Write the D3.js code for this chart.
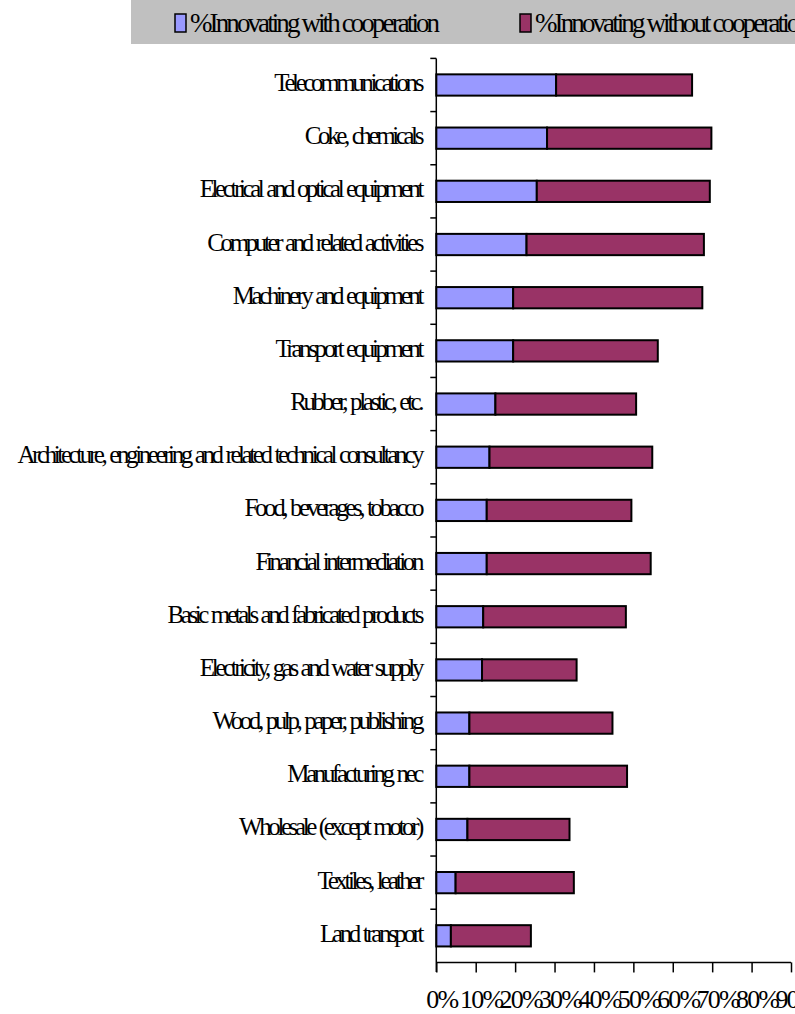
<!DOCTYPE html>
<html>
<head>
<meta charset="utf-8">
<script src="https://cdn.jsdelivr.net/npm/d3@7"></script>
<style>
  html, body { margin: 0; padding: 0; background: #ffffff; }
  svg { display: block; }
  text { font-family: "Liberation Serif", "Times New Roman", serif; fill: #000; }
</style>
</head>
<body>
<svg id="chart" width="795" height="1014"></svg>
<script>
const categories = [
  "Telecommunications",
  "Coke, chemicals",
  "Electrical and optical equipment",
  "Computer and related activities",
  "Machinery and equipment",
  "Transport equipment",
  "Rubber, plastic, etc.",
  "Architecture, engineering and related technical consultancy",
  "Food, beverages, tobacco",
  "Financial intermediation",
  "Basic metals and fabricated products",
  "Electricity, gas and water supply",
  "Wood, pulp, paper, publishing",
  "Manufacturing nec",
  "Wholesale (except motor)",
  "Textiles, leather",
  "Land transport"
];
const withCooperation =    [30.4, 28.1, 25.5, 22.9, 19.5, 19.5, 15.0, 13.5, 12.8, 12.8, 11.9, 11.6, 8.4, 8.4, 7.9, 4.9, 3.7];
const withoutCooperation = [34.5, 41.7, 43.9, 45.0, 48.0, 36.7, 35.7, 41.3, 36.7, 41.6, 36.2, 24.0, 36.3, 40.0, 25.9, 30.0, 20.3];
const seriesNames = ["%Innovating with cooperation", "%Innovating without cooperation"];
const tickValues = [0, 10, 20, 30, 40, 50, 60, 70, 80, 90];
const tickLabels = ["0%", "10%", "20%", "30%", "40%", "50%", "60%", "70%", "80%", "90%"];

const colors = ["#9999FF", "#993366"];
const FONT = "'Liberation Serif', 'Times New Roman', serif";

const svg = d3.select("#chart");

// Legend band
svg.append("rect").attr("x", 131).attr("y", 0).attr("width", 664).attr("height", 44).attr("fill", "#C0C0C0");
const legendX = [175, 520];
seriesNames.forEach((name, i) => {
  svg.append("rect")
    .attr("x", legendX[i]).attr("y", 14).attr("width", 11).attr("height", 18)
    .attr("fill", colors[i]).attr("stroke", "#000").attr("stroke-width", 1.5);
  svg.append("text")
    .attr("x", legendX[i] + 15).attr("y", 32)
    .attr("font-family", FONT)
    .attr("font-size", 27).attr("letter-spacing", -2.9)
    .text(name);
});

const x = d3.scaleLinear().domain([0, 90]).range([436.3, 791]);
const slots = d3.scaleBand().domain(categories).range([58.4, 962.4]).padding(0);
const y = d3.scaleBand().domain(categories).range([58.4, 962.4]).paddingInner(0.6).paddingOuter(0.3);

const stack = d3.stack().keys([0, 1])(categories.map((c, i) => ({ cat: c, 0: withCooperation[i], 1: withoutCooperation[i] })));

const g = svg.append("g");
stack.forEach((layer, li) => {
  g.selectAll(null).data(layer).enter().append("rect")
    .attr("x", d => x(d[0]))
    .attr("y", d => y(d.data.cat))
    .attr("width", d => x(d[1]) - x(d[0]))
    .attr("height", y.bandwidth())
    .attr("fill", colors[li])
    .attr("stroke", "#000")
    .attr("stroke-width", 2);
});

// Y axis line and ticks between categories
const yAxisX = x(0);
svg.append("line").attr("x1", yAxisX).attr("x2", yAxisX).attr("y1", 58.4).attr("y2", 972)
  .attr("stroke", "#000").attr("stroke-width", 1.5);
const bounds = categories.map(c => slots(c));
svg.selectAll(null).data(bounds).enter().append("line")
  .attr("x1", yAxisX - 6).attr("x2", yAxisX).attr("y1", d => d).attr("y2", d => d)
  .attr("stroke", "#000").attr("stroke-width", 1.5);

// Category labels
svg.selectAll(null).data(categories).enter().append("text")
  .attr("x", 421)
  .attr("y", d => slots(d) + slots.bandwidth() / 2 + 6)
  .attr("text-anchor", "end")
  .attr("font-family", FONT)
  .attr("font-size", 25)
  .attr("letter-spacing", -3.4)
  .attr("word-spacing", 2)
  .text(d => d);

// X axis
const xAxis = d3.axisBottom(x).tickValues(tickValues).tickSize(10).tickFormat((d, i) => tickLabels[i]);
const xg = svg.append("g").attr("transform", "translate(0,962.4)").call(xAxis);
xg.attr("font-family", FONT);
xg.select(".domain").attr("stroke", "#000").attr("stroke-width", 1.5).attr("d", `M${x(0)},0H${x(90)}`);
xg.selectAll(".tick line").attr("stroke", "#000").attr("stroke-width", 1.5);
xg.selectAll(".tick text")
  .attr("y", 46).attr("dy", 0).attr("dx", 5)
  .attr("font-family", FONT)
  .attr("font-size", 26)
  .attr("letter-spacing", -1.8)
  .attr("fill", "#000");
</script>
</body>
</html>
